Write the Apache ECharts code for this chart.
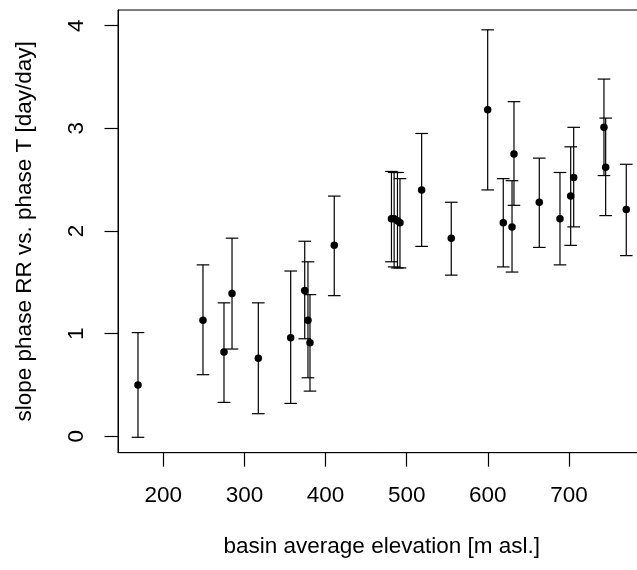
<!DOCTYPE html>
<html>
<head>
<meta charset="utf-8">
<script src="https://cdn.jsdelivr.net/npm/echarts@6/dist/echarts.min.js"></script>
<style>
html,body{margin:0;padding:0;background:#fff;}
#chart{width:637px;height:570px;}
</style>
</head>
<body>
<div id="chart"></div>
<script>
// basin average elevation [m asl.]
const elevation = [168.8, 248.9, 274.8, 284.7, 317.1, 357.0, 374.3, 378.3, 380.8, 410.7,
  481.2, 484.5, 488.6, 491.7, 518.4, 554.9, 599.8, 619.0, 629.8, 632.2,
  663.4, 688.9, 702.1, 705.8, 743.1, 745.2, 770.6];
// slope phase RR vs. phase T
const slope = [0.50, 1.13, 0.82, 1.39, 0.76, 0.96, 1.42, 1.13, 0.91, 1.86,
  2.12, 2.12, 2.10, 2.08, 2.40, 1.93, 3.18, 2.08, 2.04, 2.75,
  2.28, 2.12, 2.34, 2.52, 3.01, 2.62, 2.21];
const upper = [1.01, 1.67, 1.30, 1.93, 1.30, 1.61, 1.90, 1.70, 1.38, 2.34,
  2.58, 2.57, 2.57, 2.51, 2.95, 2.28, 3.96, 2.51, 2.49, 3.26,
  2.71, 2.57, 2.82, 3.01, 3.48, 3.10, 2.65];
const lower = [-0.01, 0.60, 0.33, 0.85, 0.22, 0.32, 0.95, 0.57, 0.44, 1.37,
  1.70, 1.65, 1.64, 1.64, 1.85, 1.57, 2.40, 1.65, 1.60, 2.25,
  1.84, 1.67, 1.86, 2.04, 2.54, 2.15, 1.76];
const xTicks = [200, 300, 400, 500, 600, 700];
const yTicks = [0, 1, 2, 3, 4];

const X_MIN = 144.17, X_MAX = 794.3, Y_MIN = -0.160, Y_MAX = 4.153;
const FONT = '"Liberation Sans", Arial, Helvetica, sans-serif';
const chart = echarts.init(document.getElementById('chart'));

const points = elevation.map((x, i) => [x, slope[i]]);
const bars = elevation.map((x, i) => [x, lower[i], upper[i]]);

chart.setOption({
  animation: false,
  grid: {
    left: 118, top: 10, width: 527.5, height: 442.7,
    outerBoundsMode: 'none', containLabel: false,
    show: true, borderColor: '#000', borderWidth: 1, backgroundColor: 'transparent'
  },
  xAxis: {
    type: 'value', position: 'bottom', min: X_MIN, max: X_MAX,
    name: 'basin average elevation [m asl.]',
    nameLocation: 'middle', nameGap: 83,
    nameTextStyle: {color: '#000', fontSize: 22.5, fontFamily: FONT},
    axisLine: {show: true, onZero: false, lineStyle: {color: '#000', width: 1}},
    splitLine: {show: false},
    axisTick: {show: true, inside: false, length: 14, customValues: xTicks,
      lineStyle: {color: '#000', width: 1.2}},
    axisLabel: {customValues: xTicks, margin: 32, color: '#000', fontSize: 22.5, fontFamily: FONT}
  },
  yAxis: {
    type: 'value', position: 'left', min: Y_MIN, max: Y_MAX,
    name: 'slope phase RR vs. phase T [day/day]',
    nameLocation: 'middle', nameGap: 82, nameRotate: 90,
    nameTextStyle: {color: '#000', fontSize: 22.5, fontFamily: FONT},
    axisLine: {show: true, onZero: false, lineStyle: {color: '#000', width: 1}},
    splitLine: {show: false},
    axisTick: {show: true, inside: false, length: 13.5, customValues: yTicks,
      lineStyle: {color: '#000', width: 1.2}},
    axisLabel: {customValues: yTicks, rotate: 90, margin: 30, color: '#000', fontSize: 22.5, fontFamily: FONT}
  },
  series: [
    {
      type: 'custom',
      data: bars,
      clip: false,
      renderItem: function (params, api) {
        const x = api.value(0), lo = api.value(1), hi = api.value(2);
        const a = api.coord([x, lo]);
        const b = api.coord([x, hi]);
        const hw = 6.3;
        const st = {stroke: '#000', lineWidth: 1.2};
        return {
          type: 'group',
          children: [
            {type: 'line', shape: {x1: a[0], y1: a[1], x2: b[0], y2: b[1]}, style: st},
            {type: 'line', shape: {x1: a[0] - hw, y1: a[1], x2: a[0] + hw, y2: a[1]}, style: st},
            {type: 'line', shape: {x1: b[0] - hw, y1: b[1], x2: b[0] + hw, y2: b[1]}, style: st}
          ]
        };
      }
    },
    {
      type: 'scatter',
      data: points,
      symbol: 'circle',
      symbolSize: 7.5,
      itemStyle: {color: '#000', opacity: 1},
      z: 3
    }
  ]
});
</script>
</body>
</html>
